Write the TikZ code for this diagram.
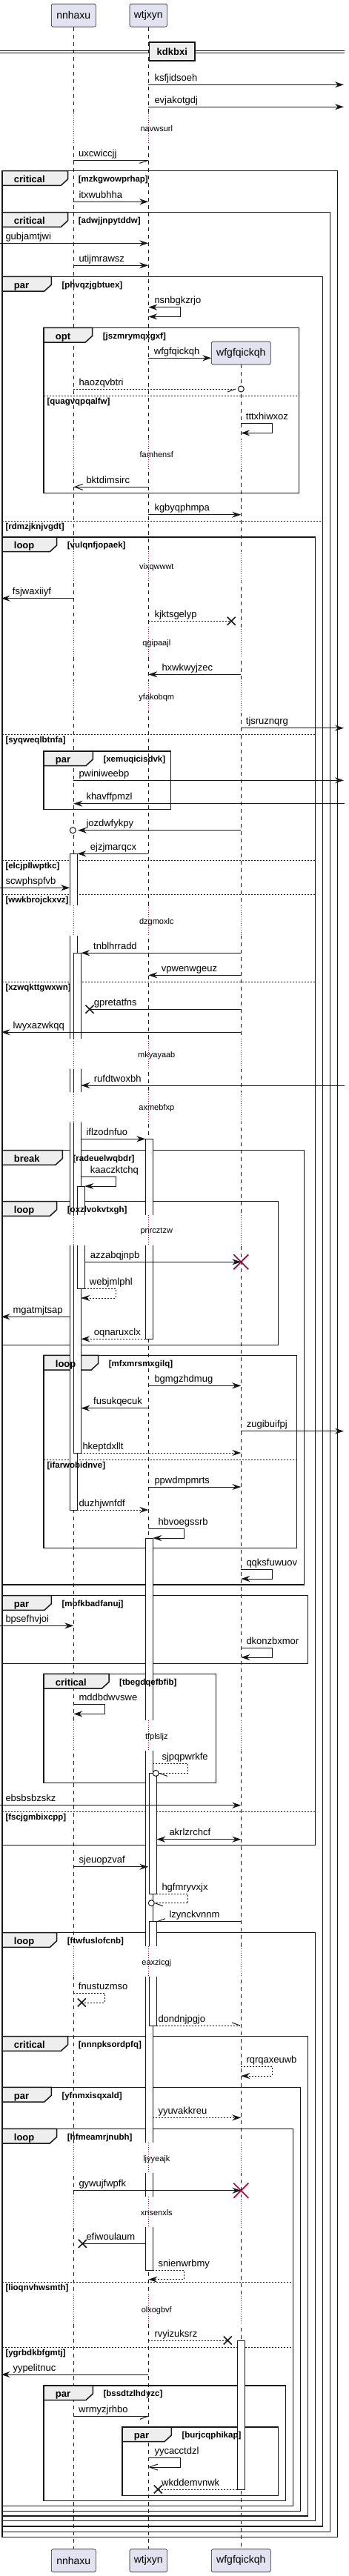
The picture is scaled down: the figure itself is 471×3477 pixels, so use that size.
\documentclass[tikz,border=0pt]{standalone}
\usepackage{fontspec}
\setmainfont{Liberation Sans}
\usetikzlibrary{arrows.meta}
\definecolor{seqline}{HTML}{181818}
\definecolor{seqpart}{HTML}{E2E2F0}
\definecolor{seqtab}{HTML}{EEEEEE}
\definecolor{seqdelay}{HTML}{A80036}
\pgfdeclarelayer{frames}
\pgfdeclarelayer{acts}
\pgfsetlayers{frames,acts,main}

\newcommand{\seqmsg}[6][msg]{%
  \draw[#1] (#2,#4) -- (#3,#4);
  \node[msglbl] (m-#6) at (#5,#4) {#6};}
\newcommand{\seqself}[7][msg]{%
  \draw[#1] (#2,#4) -- (#3,#4) -- (#3,#4+12.7) -- (#5,#4+12.7);
  \node[msglbl] (m-#7) at (#6,#4) {#7};}
\newcommand{\seqframe}[7]{%
  \begin{pgfonlayer}{frames}
    \draw[frame] (#1,#2) rectangle (#3,#4);
    \draw[fragtab] (#1,#2) -- (#5,#2) -- (#5,#2+11) -- (#5-9.5,#2+19.7) -- (#1,#2+19.7) -- cycle;
  \end{pgfonlayer}
  \node[fragkind] (g-#7-kind) at (#1+15.7,#2+15.7) {#6};
  \node[fragguard] (g-#7) at (#5+14,#2+14.8) {[#7]};}
\newcommand{\seqelse}[4]{%
  \begin{pgfonlayer}{frames}
    \draw[elsesep] (#1,#3) -- (#2,#3);
  \end{pgfonlayer}
  \node[fragguard] (g-#4) at (#1+4.3,#3+11.5) {[#4]};}
\newcommand{\seqdelay}[3][99.3,200.3,325.3]{%
  \begin{pgfonlayer}{acts}
    \foreach \lx in {#1}{%
      \fill[white] (\lx-6,#2-21) rectangle (\lx+16,#2+19.5);
      \draw[delayline] (\lx,#2-21) -- (\lx,#2+19.5);}
  \end{pgfonlayer}
  \node[delaylbl] (d-#3) at (211.3,#2+3.8) {#3};}
\newcommand{\seqact}[3]{\begin{pgfonlayer}{acts}\draw[act] (#1,#2) rectangle (#1+10,#3);\end{pgfonlayer}}
\newcommand{\seqlost}[2]{\draw[lostx] (#1-5.5,#2-5.5) -- (#1+5.5,#2+5.5) (#1-5.5,#2+5.5) -- (#1+5.5,#2-5.5);}
\newcommand{\seqkill}[2]{\draw[killx] (#1-10,#2-10) -- (#1+10,#2+10) (#1-10,#2+10) -- (#1+10,#2-10);}
\newcommand{\seqcirc}[2]{\draw[msgline,fill=white] (#1,#2) circle (4pt);}

\begin{document}
\begin{tikzpicture}[x=1pt,y=-1pt,
    every node/.style={inner sep=0pt},
    part/.style={draw=seqline,line width=0.6pt,fill=seqpart,rounded corners=2.5pt,minimum height=31pt,font=\fontsize{14}{16}\selectfont},
    lifeline/.style={draw=seqline,line width=0.5pt,dash pattern=on 5pt off 5pt},
    msgline/.style={draw=seqline,line width=1pt},
    msg/.style={msgline,-{Stealth[length=12pt,width=8pt,inset=4pt]}},
    msgd/.style={msg,dash pattern=on 2pt off 2pt},
    msgplain/.style={msgline},
    msgplaind/.style={msgline,dash pattern=on 2pt off 2pt},
    msgopen/.style={msgline,-{Straight Barb[length=11pt,width=8pt]}},
    msgboth/.style={msgline,{Stealth[length=12pt,width=8pt,inset=4pt]}-{Stealth[length=12pt,width=8pt,inset=4pt]}},
    msglbl/.style={anchor=base west,yshift=5pt,font=\fontsize{13}{15}\selectfont},
    frame/.style={draw=seqline,line width=1.5pt},
    fragtab/.style={draw=seqline,line width=1.5pt,fill=seqtab},
    fragkind/.style={anchor=base west,font=\bfseries\fontsize{13}{15}\selectfont},
    fragguard/.style={anchor=base west,font=\bfseries\fontsize{11.5}{13}\selectfont},
    elsesep/.style={draw=seqline,line width=1pt,dash pattern=on 2pt off 2pt},
    delayline/.style={draw=seqdelay,line width=1pt,dash pattern=on 1pt off 2pt},
    delaylbl/.style={anchor=base,font=\fontsize{11}{13}\selectfont},
    act/.style={draw=seqline,line width=1pt,fill=white},
    lostx/.style={draw=seqline,line width=1.6pt},
    killx/.style={draw=seqdelay,line width=1.6pt},
    divider/.style={draw=seqline,line width=1.5pt,fill=seqtab,minimum width=61.3pt,minimum height=25pt,font=\bfseries\fontsize{13}{15}\selectfont}]
  \useasboundingbox (0,0) rectangle (471,3477);
  % participants and lifelines
  \node[part,minimum width=60pt] (nnhaxu) at (99.3,20.7) {nnhaxu};
  \node[part,minimum width=50.6pt] (wtjxyn) at (200.3,20.7) {wtjxyn};
  \node[part,minimum width=80pt] (wfgfqickqh) at (325.3,476.5) {wfgfqickqh};
  \node[part,minimum width=60pt] (nnhaxu-end) at (99.3,3456.2) {nnhaxu};
  \node[part,minimum width=50.6pt] (wtjxyn-end) at (200.3,3456.2) {wtjxyn};
  \node[part,minimum width=80pt] (wfgfqickqh-end) at (325.3,3456.2) {wfgfqickqh};
  \begin{pgfonlayer}{frames}
    \draw[lifeline] (nnhaxu.south) -- (nnhaxu-end.north);
    \draw[lifeline] (wtjxyn.south) -- (wtjxyn-end.north);
    \draw[lifeline] (wfgfqickqh.south) -- (wfgfqickqh-end.north);
  \end{pgfonlayer}
  % divider
  \draw[seqline,line width=1pt] (0,68.5) -- (465,68.5) (0,71.5) -- (465,71.5);
  \node[divider] (kdkbxi) at (232.3,69.5) {kdkbxi};
  % groups
  \seqframe{3}{230.7}{455.7}{3424.7}{91.7}{critical}{mzkgwowprhap}
  \seqframe{3}{286.7}{445.7}{3417.3}{91.7}{critical}{adwjjnpytddw}
  \seqframe{3}{373.3}{435.7}{3410}{69.3}{par}{phvqzjgbtuex}
  \seqframe{59}{442.3}{403.7}{665.3}{124.7}{opt}{jszmrymqxgxf}
  \seqelse{59}{403.7}{534.3}{quagvqpqalfw}
  \seqelse{3}{435.7}{703.3}{rdmzjknjvgdt}
  \seqframe{3}{725}{425.7}{2490.7}{76.7}{loop}{vulqnfjopaek}
  \seqelse{3}{425.7}{991.3}{syqweqlbtnfa}
  \seqframe{59}{1014}{230.7}{1092.3}{125.3}{par}{xemuqicisdvk}
  \seqelse{3}{425.7}{1161}{elcjpllwptkc}
  \seqelse{3}{425.7}{1207.3}{wwkbrojckxvz}
  \seqelse{3}{425.7}{1325}{xzwqkttgwxwn}
  \seqframe{3}{1552.7}{410.3}{2139}{84.3}{break}{radeuelwqbdr}
  \seqframe{3}{1621.7}{375.7}{1815.3}{76.7}{loop}{oxzlvokvtxgh}
  \seqframe{59}{1829.3}{400.3}{2089.7}{132.7}{loop}{mfxmrsmxgilq}
  \seqelse{59}{400.3}{1970}{ifarwobidnve}
  \seqframe{3}{2153.7}{415.7}{2245.3}{69.3}{par}{mofkbadfanuj}
  \seqframe{59}{2259.3}{291.7}{2406.7}{147}{critical}{tbegdqefbfib}
  \seqelse{3}{425.7}{2445.3}{fscjgmbixcpp}
  \seqframe{3}{2608.7}{425.7}{3402.7}{76.7}{loop}{ftwfuslofcnb}
  \seqframe{3}{2748.7}{415.7}{3396}{91.7}{critical}{nnnpksordpfq}
  \seqframe{3}{2817.3}{405.7}{3389.3}{69.3}{par}{yfnmxisqxald}
  \seqframe{3}{2873.3}{395.7}{3382.3}{76.7}{loop}{hfmeamrjnubh}
  \seqelse{3}{395.7}{3080.3}{lioqnvhwsmth}
  \seqelse{3}{395.7}{3168}{ygrbdkbfgmtj}
  \seqframe{59}{3220}{385.7}{3375.3}{125.3}{par}{bssdtzlhdyzc}
  \seqframe{165}{3276}{375.7}{3368.3}{231.3}{par}{burjcqphikap}
  % activations
  \seqact{94.3}{1152.3}{2038}
  \seqact{99.3}{1286.3}{1961}
  \seqact{104.3}{1601.3}{1739.3}
  \seqact{196.3}{1537.3}{1807.3}
  \seqact{196.3}{2076.3}{3064}
  \seqact{201.3}{2393.3}{2556}
  \seqact{201.3}{2593.7}{2734}
  \seqact{320.3}{3159}{3360}
  % delays
  \seqdelay[99.3,200.3]{174}{navwsurl}
  \seqdelay{614}{famhensf}
  \seqdelay{765}{vixqwwwt}
  \seqdelay{867.3}{qgipaajl}
  \seqdelay{940.3}{yfakobqm}
  \seqdelay{1243.3}{dzgmoxlc}
  \seqdelay{1423.3}{mkyayaab}
  \seqdelay{1495}{axmebfxp}
  \seqdelay{1661}{pnrcztzw}
  \seqdelay{2343.3}{tfplsljz}
  \seqdelay{2648.3}{eaxzicgj}
  \seqdelay{2913.3}{ljyyeajk}
  \seqdelay{2986.3}{xnsenxls}
  \seqdelay{3117.3}{olxogbvf}
  % messages
  \seqmsg{200.3}{464}{114.3}{208.3}{ksfjidsoeh}
  \seqmsg{200.3}{464}{144.3}{208.3}{evjakotgdj}
  \seqmsg[msgplain]{99.3}{200.3}{216.3}{106}{uxcwiccjj}
  \draw[msgline] (200.3,216.3) -- ++(-12,4);
  \seqmsg{99.3}{200.3}{272.3}{106.3}{itxwubhha}
  \seqmsg{0}{200.3}{328.3}{7.3}{gubjamtjwi}
  \seqmsg{99.3}{200.3}{358.3}{106.3}{utijmrawsz}
  \seqself[msgboth]{200.3}{243.7}{414.7}{200.3}{208.3}{nsnbgkzrjo}
  \seqmsg{200.3}{285.3}{483.3}{207.7}{wfgfqickqh}
  \seqmsg[msgplaind]{99.3}{318}{525}{106.3}{haozqvbtri}
  \draw[msgline] (318,525) -- ++(-11,4);
  \seqcirc{325.3}{525}
  \seqself{325.3}{367.3}{571.7}{325.3}{331.7}{tttxhiwxoz}
  \seqmsg[msgopen]{200.3}{99.3}{657.3}{116.3}{bktdimsirc}
  \seqmsg{200.3}{325.3}{694.7}{208.3}{kgbyqphmpa}
  \seqmsg{99.3}{1.5}{807.7}{16.7}{fsjwaxiiyf}
  \seqmsg[msgplaind]{200.3}{312.3}{838.3}{208.3}{kjktsgelyp}
  \seqlost{312.3}{838.3}
  \seqmsg{325.3}{200.3}{910.3}{218.3}{hxwkwyjzec}
  \seqmsg{325.3}{464}{982.7}{331.7}{tjsruznqrg}
  \seqmsg{99.3}{464}{1053.3}{106.3}{pwiniweebp}
  \seqmsg{465}{99.3}{1084.7}{116.3}{khavffpmzl}
  \seqmsg{325.3}{105}{1120.7}{116.3}{jozdwfykpy}
  \seqcirc{98.3}{1120.7}
  \seqmsg{200.3}{104.3}{1152.3}{121.7}{ejzjmarqcx}
  \seqmsg{0}{94.3}{1198.3}{7.3}{scwphspfvb}
  \seqmsg{325.3}{109.3}{1286.3}{126}{tnblhrradd}
  \seqmsg{325.3}{200.3}{1316.3}{217.7}{vpwenwgeuz}
  \seqmsg[msgplain]{325.3}{121}{1362.3}{126.7}{gpretatfns}
  \seqlost{121}{1362.3}
  \seqmsg{325.3}{1.5}{1393.3}{17.3}{lwyxazwkqq}
  \seqmsg{465}{109.3}{1465}{126.7}{rufdtwoxbh}
  \seqmsg{109.3}{196.3}{1537.3}{116.3}{iflzodnfuo}
  \seqself{109.3}{156.3}{1588.3}{114.3}{121.7}{kaaczktchq}
  \seqmsg{114.3}{325.3}{1703.3}{121.7}{azzabqjnpb}
  \seqkill{325.3}{1703.3}
  \seqself[msgd]{114.3}{156.3}{1739.3}{109.3}{120.7}{webjmlphl}
  \seqmsg{94.3}{1.5}{1777.3}{17.3}{mgatmjtsap}
  \seqmsg[msgd]{196.3}{109.3}{1807.3}{126.7}{oqnaruxclx}
  \seqmsg{200.3}{325.3}{1870.3}{208.3}{bgmgzhdmug}
  \seqmsg{200.3}{109.3}{1900.7}{126}{fusukqecuk}
  \seqmsg{325.3}{464}{1931.7}{332.7}{zugibuifpj}
  \seqmsg[msgd]{109.3}{325.3}{1961}{111.3}{hkeptdxllt}
  \seqmsg{200.3}{325.3}{2007}{208.3}{ppwdmpmrts}
  \seqmsg[msgd]{104.3}{200.3}{2038}{106.3}{duzhjwnfdf}
  \seqself{200.3}{248.3}{2063.3}{206.3}{213.3}{hbvoegssrb}
  \seqself{325.3}{367.3}{2118.3}{325.3}{332.3}{qqksfuwuov}
  \seqmsg{0}{99.3}{2194.3}{7.3}{bpsefhvjoi}
  \seqself{325.3}{367.3}{2224.3}{325.3}{332.3}{dkonzbxmor}
  \seqself{99.3}{141.3}{2300.7}{99.3}{106.3}{mddbdwvswe}
  \seqself[msgplaind]{206.3}{253.7}{2380.7}{215}{218.3}{sjpqpwrkfe}
  \draw[msgline] (215,2393.4) -- ++(11,4);
  \seqcirc{210.3}{2393.4}
  \seqmsg{0}{325.3}{2436.7}{7.3}{ebsbsbzskz}
  \seqmsg[msgboth]{211.3}{325.3}{2482.7}{228.3}{akrlzrchcf}
  \seqmsg{99.3}{200.3}{2519.7}{106.3}{sjeuopzvaf}
  \seqself[msgplaind]{211.3}{253.7}{2556}{209}{218.3}{hgfmryvxjx}
  \draw[msgline] (209,2568.7) -- ++(11,4);
  \seqcirc{204.3}{2568.7}
  \seqmsg[msgplain]{325.3}{212}{2593.7}{228.3}{lzynckvnnm}
  \draw[msgline] (212,2593.7) -- ++(11,-4);
  \seqself[msgplaind]{99.3}{141.3}{2690.3}{110.3}{105.7}{fnustuzmso}
  \seqlost{110.3}{2703}
  \seqmsg[msgplaind]{211.3}{324}{2734}{213.3}{dondnjpgjo}
  \draw[msgline] (324,2734) -- ++(-11,-4);
  \seqself[msgd]{325.3}{367.3}{2789.3}{325.3}{332.3}{rqrqaxeuwb}
  \seqmsg[msgd]{206.3}{325.3}{2858.3}{213.3}{yyuvakkreu}
  \seqmsg{99.3}{325.3}{2956.7}{106.3}{gywujfwpfk}
  \seqkill{325.3}{2956.7}
  \seqmsg[msgplain]{196.3}{111.3}{3028.3}{116.3}{efiwoulaum}
  \seqlost{111.3}{3028.3}
  \seqself[msgd]{206.3}{248.3}{3064}{200.3}{213.3}{snienwrbmy}
  \seqmsg[msgplaind]{200.3}{307.3}{3159}{208.3}{rvyizuksrz}
  \seqlost{307.3}{3159}
  \seqmsg{200.3}{1.5}{3205}{17.3}{yypelitnuc}
  \seqmsg[msgplain]{99.3}{200.3}{3261}{106}{wrmyzjrhbo}
  \draw[msgline] (200.3,3261) -- ++(-11.3,4.3);
  \seqself[msgopen]{200.3}{243.7}{3317.3}{200.3}{208.3}{yycacctdzl}
  \seqmsg[msgplaind]{320.3}{213.3}{3360}{218}{wkddemvnwk}
  \seqlost{213.3}{3360}
\end{tikzpicture}
\end{document}
